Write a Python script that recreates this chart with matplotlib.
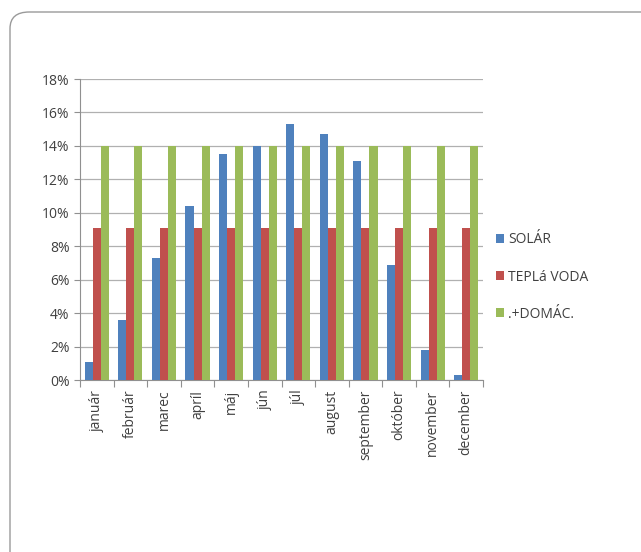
import numpy as np
import matplotlib
matplotlib.use("Agg")
import matplotlib.pyplot as plt
from matplotlib.patches import FancyBboxPatch
from matplotlib.ticker import FuncFormatter, MultipleLocator

months = ["január", "február", "marec", "apríl", "máj", "jún",
          "júl", "august", "september", "október", "november", "december"]
solar = [1.1, 3.6, 7.3, 10.4, 13.5, 14.0, 15.3, 14.7, 13.1, 6.9, 1.8, 0.3]
tepla_voda = [9.1] * 12
domac = [14.0] * 12
series_names = ["SOLÁR", "TEPLá VODA", ".+DOMÁC."]
colors = ["#4F81BD", "#C0504D", "#9BBB59"]

plt.rcParams['font.family'] = ['Open Sans', 'DejaVu Sans']

fig = plt.figure(figsize=(6.41, 5.52), dpi=100)

# rounded frame around the figure (right and bottom run off the picture)
frame = FancyBboxPatch((10 / 641, -0.1), 1.2, (552 - 12) / 552 + 0.1,
                       boxstyle="round,pad=0,rounding_size=0.03",
                       transform=fig.transFigure, fill=False,
                       edgecolor="#9a9a9a", linewidth=1.0)
fig.patches.append(frame)

ax = fig.add_axes([80 / 641, 172 / 552, 403 / 641, 301 / 552])

x = np.arange(len(months))
w = 0.24
for i, (vals, name) in enumerate(zip([solar, tepla_voda, domac], series_names)):
    ax.bar(x + (i - 1) * w, vals, w, color=colors[i], label=name, zorder=3)

ax.set_xlim(-0.5, len(months) - 0.5)
ax.set_ylim(0, 18)
ax.yaxis.set_major_locator(MultipleLocator(2))
ax.yaxis.set_major_formatter(FuncFormatter(lambda v, p: f"{v:.0f}%"))
ax.grid(axis="y", color="#b0b0b0", linewidth=0.9, zorder=0)

ax.set_xticks(np.arange(len(months) + 1) - 0.5, minor=False)
ax.set_xticklabels([])
ax.set_xticks(x, minor=True)
ax.set_xticklabels(months, minor=True, rotation=90, fontsize=10, color="#404040")
ax.tick_params(axis="x", which="minor", length=0, pad=7)
ax.tick_params(axis="x", which="major", length=5, color="#909090")
ax.tick_params(axis="y", length=4, color="#909090", labelsize=10,
               labelcolor="#404040")

for s in ["top", "right"]:
    ax.spines[s].set_visible(False)
for s in ["left", "bottom"]:
    ax.spines[s].set_color("#909090")

ax.legend(loc="center left", bbox_to_anchor=(1.0, 0.342), frameon=False,
          fontsize=10, handlelength=0.6, handleheight=0.6, handletextpad=0.3,
          labelspacing=1.6, labelcolor="#404040")

fig.savefig("out.png", dpi=100)
